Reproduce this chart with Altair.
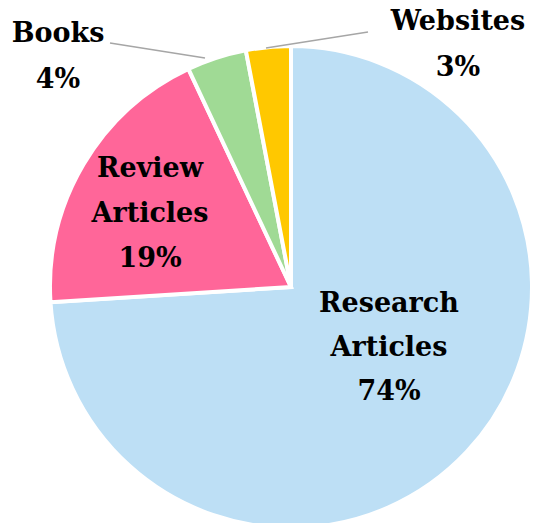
import altair as alt
import pandas as pd

categories = ["Research Articles", "Review Articles", "Books", "Websites"]
values = [74, 19, 4, 3]
colors = ["#BDDFF5", "#FF6699", "#A0DA95", "#FFC800"]

df = pd.DataFrame({"category": categories, "value": values, "order": list(range(len(categories)))})

FONT = "DejaVu Serif"
CX, CY, R = 283, 279, 241

base = alt.Chart(df)

pie = base.mark_arc(radius=R, stroke="white", strokeWidth=4, x=CX, y=CY).encode(
    theta=alt.Theta("value:Q", stack=True),
    order=alt.Order("order:Q", sort="ascending"),
    color=alt.Color("category:N", scale=alt.Scale(domain=categories, range=colors), legend=None),
)

def label(cat, x, y, lh):
    return base.transform_filter(alt.datum.category == cat).transform_calculate(
        lbl="datum.category + ' ' + datum.value + '%'"
    ).mark_text(
        x=x, y=y, font=FONT, fontWeight="bold", fontSize=27, lineBreak=" ",
        lineHeight=lh, align="center", baseline="alphabetic", color="black",
    ).encode(text="lbl:N")

lab_research = label("Research Articles", 381, 304, 44)
lab_review = label("Review Articles", 142, 169, 45)
lab_books = label("Books", 50, 34, 46)
lab_web = label("Websites", 450, 22, 46)

lead_books = base.transform_filter(alt.datum.category == "Books").mark_rule(
    color="#A6A6A6", strokeWidth=1.5
).encode(x=alt.value(102), y=alt.value(35), x2=alt.value(197), y2=alt.value(50))
lead_web = base.transform_filter(alt.datum.category == "Websites").mark_rule(
    color="#A6A6A6", strokeWidth=1.5
).encode(x=alt.value(360), y=alt.value(24), x2=alt.value(258), y2=alt.value(40))

chart = alt.layer(pie, lead_books, lead_web, lab_research, lab_review, lab_books, lab_web).properties(
    width=534, height=515, autosize=alt.AutoSizeParams(type="none"), padding=0
).configure_view(stroke=None)

chart.save("out.html", embed_options={"renderer": "svg", "actions": False})
